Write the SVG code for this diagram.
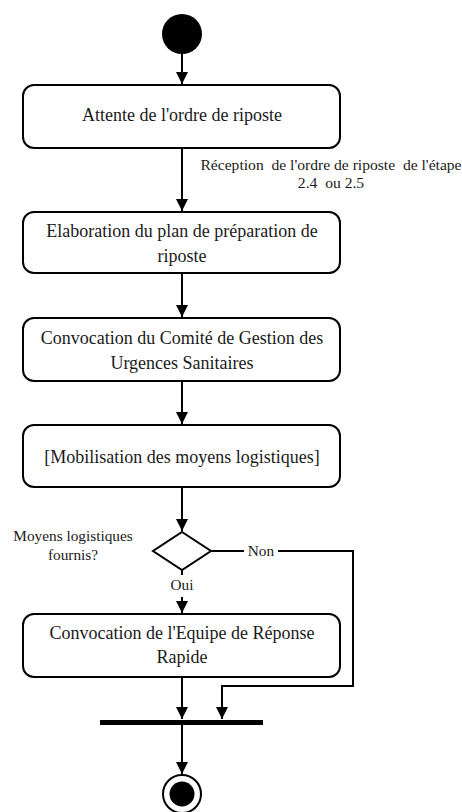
<svg xmlns="http://www.w3.org/2000/svg" width="462" height="812" viewBox="0 0 462 812">
<style>
.box{fill:#fff;stroke:#000;stroke-width:2}
text{font-family:'Liberation Serif','DejaVu Serif',serif;fill:#1a1a1a;text-anchor:middle}
.t{font-size:18px}
.s{font-size:15.3px}
.r{font-size:15.6px}
.c{fill:none;stroke:#000;stroke-width:2}
.ca{fill:none;stroke:#000;stroke-width:2;marker-end:url(#arr)}
</style>
<defs>
<marker id="arr" viewBox="0 0 12 16" refX="12" refY="8" markerWidth="12" markerHeight="16" markerUnits="userSpaceOnUse" orient="auto">
<path d="M0,2 L12,8 L0,14 Z" fill="#000"/>
</marker>
</defs>
<rect width="462" height="812" fill="#fff"/>
<g id="start"><circle cx="182" cy="34" r="20" fill="#000"/></g>
<g id="n1"><rect class="box" x="23" y="85" width="317" height="63" rx="11"/><text class="t" x="182" y="121">Attente de l'ordre de riposte</text></g>
<g id="n2"><rect class="box" x="23" y="212" width="317" height="61" rx="11"/><text class="t" x="182" y="237">Elaboration du plan de préparation de</text><text class="t" x="182" y="262">riposte</text></g>
<g id="n3"><rect class="box" x="23" y="318" width="317" height="63" rx="11"/><text class="t" x="182" y="344">Convocation du Comité de Gestion des</text><text class="t" x="182" y="369">Urgences Sanitaires</text></g>
<g id="n4"><rect class="box" x="23" y="425" width="317" height="62" rx="11"/><text class="t" x="182" y="463">[Mobilisation des moyens logistiques]</text></g>
<g id="decision"><path class="box" d="M182,532 L211,551 L182,570 L153,551 Z"/><text class="s" x="73" y="541">Moyens logistiques</text><text class="s" x="73" y="560">fournis?</text></g>
<g id="n5"><rect class="box" x="23" y="614" width="317" height="63" rx="11"/><text class="t" x="182" y="639">Convocation de l'Equipe de Réponse</text><text class="t" x="182" y="663">Rapide</text></g>
<g id="join"><rect x="100" y="720" width="163" height="5" fill="#000"/></g>
<g id="end"><circle cx="182" cy="794" r="19" fill="#fff" stroke="#000" stroke-width="2"/><circle cx="182" cy="794" r="12.5" fill="#000"/></g>
<g id="connectors">
<path class="ca" d="M182,54 V84"/>
<path class="ca" d="M182,148 V211"/>
<text class="r" x="331" y="170" xml:space="preserve">Réception  de l'ordre de riposte  de l'étape</text>
<text class="r" x="331" y="188" xml:space="preserve">2.4  ou 2.5</text>
<path class="ca" d="M182,273 V317"/>
<path class="ca" d="M182,381 V424"/>
<path class="ca" d="M182,487 V531"/>
<path class="c" d="M211,551 H244"/>
<text class="s" x="261" y="556">Non</text>
<path class="c" d="M278,551 H353 V686 H222"/>
<path class="ca" d="M222,685 V719"/>
<path class="c" d="M182,570 V575"/>
<text class="s" x="182" y="590">Oui</text>
<path class="ca" d="M182,597 V613"/>
<path class="ca" d="M182,677 V719"/>
<path class="ca" d="M182,725 V774"/>
</g>
</svg>
